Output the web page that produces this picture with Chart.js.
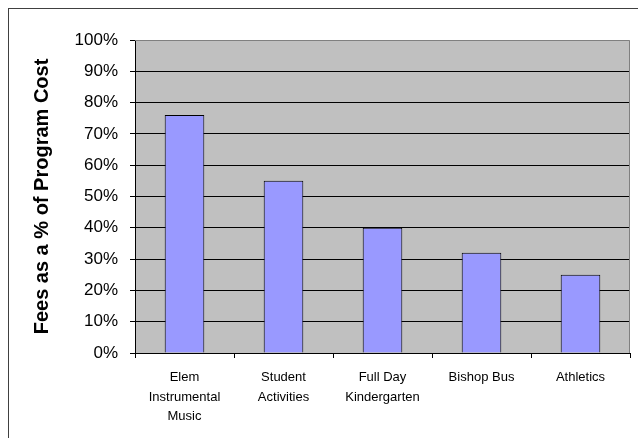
<!DOCTYPE html>
<html>
<head>
<meta charset="utf-8">
<script src="https://cdn.jsdelivr.net/npm/chart.js@4"></script>
<style>
    html, body { margin: 0; padding: 0; background: #fff; }
    #wrap { position: relative; width: 638px; height: 438px; overflow: hidden; }
    #frame {
        position: absolute; left: 8px; top: 8px; width: 700px; height: 500px;
        border: 1px solid #404040; pointer-events: none;
    }
</style>
</head>
<body>
<div id="wrap">
    <canvas id="feesChart" width="638" height="438"></canvas>
    <div id="frame"></div>
</div>
<script>
// Chart data
const categories = [
    ['Elem', 'Instrumental', 'Music'],
    ['Student', 'Activities'],
    ['Full Day', 'Kindergarten'],
    ['Bishop Bus'],
    ['Athletics']
];
const feePercent = [76, 55, 40, 32, 25];
const yTicks = [0, 10, 20, 30, 40, 50, 60, 70, 80, 90, 100];

// Gray plot area with a lighter border, like the old Excel charts
const plotBackground = {
    id: 'plotBackground',
    beforeDraw(chart) {
        const { ctx, chartArea: a } = chart;
        ctx.save();
        ctx.fillStyle = '#c0c0c0';
        ctx.fillRect(a.left, a.top, a.right - a.left, a.bottom - a.top);
        ctx.restore();
    },
    beforeDatasetsDraw(chart) {
        const { ctx, chartArea: a } = chart;
        ctx.save();
        ctx.strokeStyle = '#808080';
        ctx.lineWidth = 1;
        ctx.beginPath();
        ctx.moveTo(a.left, a.top + 0.5);
        ctx.lineTo(a.right - 0.5, a.top + 0.5);
        ctx.lineTo(a.right - 0.5, a.bottom);
        ctx.stroke();
        ctx.restore();
    }
};

const ctx = document.getElementById('feesChart');
new Chart(ctx, {
    type: 'bar',
    data: {
        labels: categories,
        datasets: [{
            data: feePercent,
            backgroundColor: '#9999ff',
            borderColor: '#000000',
            borderWidth: 1,
            barPercentage: 0.4,
            categoryPercentage: 1
        }]
    },
    options: {
        responsive: false,
        animation: false,
        layout: { padding: { left: 0, top: 40, right: 8, bottom: 0 } },
        plugins: {
            legend: { display: false },
            tooltip: { enabled: false }
        },
        scales: {
            x: {
                afterFit(scale) { scale.height = 85; },
                grid: {
                    offset: true,
                    drawOnChartArea: false,
                    drawTicks: true,
                    tickLength: 5,
                    color: '#000000'
                },
                border: { color: '#000000', width: 1 },
                ticks: {
                    color: '#000000',
                    font: { family: 'Liberation Sans, Arial', size: 13, lineHeight: 1.5 },
                    padding: 10,
                    maxRotation: 0,
                    autoSkip: false
                }
            },
            y: {
                min: 0,
                max: 100,
                afterFit(scale) { scale.width = 135; },
                afterBuildTicks(scale) {
                    scale.ticks = yTicks.map(v => ({ value: v }));
                },
                grid: {
                    color: c => (c.tick && c.tick.value === 100) ? 'rgba(0,0,0,0)' : '#000000',
                    tickColor: '#000000',
                    tickLength: 5,
                    lineWidth: 1
                },
                border: { color: '#000000', width: 1 },
                ticks: {
                    color: '#000000',
                    font: { family: 'Liberation Sans, Arial', size: 17 },
                    padding: 12,
                    callback: v => v + '%'
                },
                title: {
                    display: true,
                    text: 'Fees as a % of Program Cost',
                    color: '#000000',
                    font: { family: 'Liberation Sans, Arial', size: 20, weight: 'bold' },
                    padding: { top: 30, bottom: 0 }
                }
            }
        }
    },
    plugins: [plotBackground]
});
</script>
</body>
</html>
